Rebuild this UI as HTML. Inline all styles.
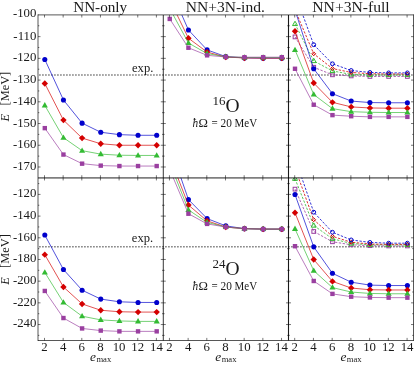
<!DOCTYPE html>
<html><head><meta charset="utf-8"><title>chart</title>
<style>html,body{margin:0;padding:0;background:#fff;width:415px;height:365px;overflow:hidden}svg{will-change:transform;opacity:0.999}svg text{font-family:"Liberation Serif",serif}</style>
</head><body>
<svg width="415" height="365" viewBox="0 0 415 365" style="display:block;position:absolute;left:0;top:0" fill="#1a1a1a">
<rect width="415" height="365" fill="#fff"/>
<defs>
<clipPath id="c00"><rect x="38.0" y="14.9" width="125.30000000000001" height="162.95"/></clipPath>
<clipPath id="c01"><rect x="163.3" y="14.9" width="125.19999999999999" height="162.95"/></clipPath>
<clipPath id="c02"><rect x="288.5" y="14.9" width="125.0" height="162.95"/></clipPath>
<clipPath id="c10"><rect x="38.0" y="177.85" width="125.30000000000001" height="162.65"/></clipPath>
<clipPath id="c11"><rect x="163.3" y="177.85" width="125.19999999999999" height="162.65"/></clipPath>
<clipPath id="c12"><rect x="288.5" y="177.85" width="125.0" height="162.65"/></clipPath>
</defs>
<line x1="38.0" y1="75.05" x2="413.5" y2="75.05" stroke="#8c8c8c" stroke-width="1.5" stroke-dasharray="1.8 1.2" stroke-dashoffset="-1"/>
<line x1="38.0" y1="246.70" x2="413.5" y2="246.70" stroke="#8c8c8c" stroke-width="1.5" stroke-dasharray="1.8 1.2" stroke-dashoffset="-1"/>
<path d="M44.80 59.45L63.45 99.97L82.10 123.15L100.75 132.25L119.40 134.64L138.05 135.29L156.70 135.29" fill="none" stroke="#0000cc" stroke-width="0.68" clip-path="url(#c00)"/>
<circle cx="44.80" cy="59.45" r="2.55" fill="#0000cc" stroke="none"/>
<circle cx="63.45" cy="99.97" r="2.55" fill="#0000cc" stroke="none"/>
<circle cx="82.10" cy="123.15" r="2.55" fill="#0000cc" stroke="none"/>
<circle cx="100.75" cy="132.25" r="2.55" fill="#0000cc" stroke="none"/>
<circle cx="119.40" cy="134.64" r="2.55" fill="#0000cc" stroke="none"/>
<circle cx="138.05" cy="135.29" r="2.55" fill="#0000cc" stroke="none"/>
<circle cx="156.70" cy="135.29" r="2.55" fill="#0000cc" stroke="none"/>
<path d="M44.80 83.50L63.45 120.12L82.10 138.10L100.75 143.74L119.40 145.25L138.05 145.25L156.70 145.25" fill="none" stroke="#d40000" stroke-width="0.68" clip-path="url(#c00)"/>
<path d="M41.60 83.50L44.80 80.30L48.00 83.50L44.80 86.70Z" fill="#d40000" stroke="none"/>
<path d="M60.25 120.12L63.45 116.92L66.65 120.12L63.45 123.32Z" fill="#d40000" stroke="none"/>
<path d="M78.90 138.10L82.10 134.90L85.30 138.10L82.10 141.30Z" fill="#d40000" stroke="none"/>
<path d="M97.55 143.74L100.75 140.54L103.95 143.74L100.75 146.94Z" fill="#d40000" stroke="none"/>
<path d="M116.20 145.25L119.40 142.05L122.60 145.25L119.40 148.45Z" fill="#d40000" stroke="none"/>
<path d="M134.85 145.25L138.05 142.05L141.25 145.25L138.05 148.45Z" fill="#d40000" stroke="none"/>
<path d="M153.50 145.25L156.70 142.05L159.90 145.25L156.70 148.45Z" fill="#d40000" stroke="none"/>
<path d="M44.80 105.38L63.45 137.67L82.10 150.67L100.75 154.14L119.40 155.22L138.05 155.44L156.70 155.44" fill="none" stroke="#33bb33" stroke-width="0.68" clip-path="url(#c00)"/>
<path d="M44.80 102.11L47.85 107.39L41.75 107.39Z" fill="#33bb33" stroke="none"/>
<path d="M63.45 134.39L66.50 139.68L60.40 139.68Z" fill="#33bb33" stroke="none"/>
<path d="M82.10 147.39L85.15 152.68L79.05 152.68Z" fill="#33bb33" stroke="none"/>
<path d="M100.75 150.86L103.80 156.14L97.70 156.14Z" fill="#33bb33" stroke="none"/>
<path d="M119.40 151.94L122.45 157.23L116.35 157.23Z" fill="#33bb33" stroke="none"/>
<path d="M138.05 152.16L141.10 157.44L135.00 157.44Z" fill="#33bb33" stroke="none"/>
<path d="M156.70 152.16L159.75 157.44L153.65 157.44Z" fill="#33bb33" stroke="none"/>
<path d="M44.80 128.14L63.45 154.57L82.10 163.67L100.75 165.62L119.40 166.05L138.05 166.05L156.70 166.05" fill="none" stroke="#9a3fa0" stroke-width="0.68" clip-path="url(#c00)"/>
<rect x="42.60" y="125.94" width="4.40" height="4.40" fill="#9a3fa0" stroke="none"/>
<rect x="61.25" y="152.37" width="4.40" height="4.40" fill="#9a3fa0" stroke="none"/>
<rect x="79.90" y="161.47" width="4.40" height="4.40" fill="#9a3fa0" stroke="none"/>
<rect x="98.55" y="163.42" width="4.40" height="4.40" fill="#9a3fa0" stroke="none"/>
<rect x="117.20" y="163.85" width="4.40" height="4.40" fill="#9a3fa0" stroke="none"/>
<rect x="135.85" y="163.85" width="4.40" height="4.40" fill="#9a3fa0" stroke="none"/>
<rect x="154.50" y="163.85" width="4.40" height="4.40" fill="#9a3fa0" stroke="none"/>
<path d="M169.75 -12.70L188.43 29.98L207.11 49.92L225.79 56.63L244.47 57.93L263.15 58.15L281.83 58.15" fill="none" stroke="#0000cc" stroke-width="0.68" clip-path="url(#c01)"/>
<circle cx="188.43" cy="29.98" r="2.55" fill="#0000cc" stroke="none"/>
<circle cx="207.11" cy="49.92" r="2.55" fill="#0000cc" stroke="none"/>
<circle cx="225.79" cy="56.63" r="2.55" fill="#0000cc" stroke="none"/>
<circle cx="244.47" cy="57.93" r="2.55" fill="#0000cc" stroke="none"/>
<circle cx="263.15" cy="58.15" r="2.55" fill="#0000cc" stroke="none"/>
<circle cx="281.83" cy="58.15" r="2.55" fill="#0000cc" stroke="none"/>
<path d="M169.75 -0.13L188.43 38.22L207.11 52.08L225.79 57.07L244.47 57.93L263.15 58.15L281.83 58.15" fill="none" stroke="#d40000" stroke-width="0.68" clip-path="url(#c01)"/>
<path d="M185.23 38.22L188.43 35.02L191.63 38.22L188.43 41.42Z" fill="#d40000" stroke="none"/>
<path d="M203.91 52.08L207.11 48.88L210.31 52.08L207.11 55.28Z" fill="#d40000" stroke="none"/>
<path d="M222.59 57.07L225.79 53.87L228.99 57.07L225.79 60.27Z" fill="#d40000" stroke="none"/>
<path d="M241.27 57.93L244.47 54.73L247.67 57.93L244.47 61.13Z" fill="#d40000" stroke="none"/>
<path d="M259.95 58.15L263.15 54.95L266.35 58.15L263.15 61.35Z" fill="#d40000" stroke="none"/>
<path d="M278.63 58.15L281.83 54.95L285.03 58.15L281.83 61.35Z" fill="#d40000" stroke="none"/>
<path d="M169.75 8.53L188.43 42.98L207.11 53.60L225.79 56.85L244.47 57.50L263.15 57.50L281.83 57.50" fill="none" stroke="#33bb33" stroke-width="0.68" clip-path="url(#c01)"/>
<path d="M188.43 39.71L191.48 44.99L185.38 44.99Z" fill="#33bb33" stroke="none"/>
<path d="M207.11 50.33L210.16 55.61L204.06 55.61Z" fill="#33bb33" stroke="none"/>
<path d="M225.79 53.58L228.84 58.86L222.74 58.86Z" fill="#33bb33" stroke="none"/>
<path d="M244.47 54.23L247.52 59.51L241.42 59.51Z" fill="#33bb33" stroke="none"/>
<path d="M263.15 54.23L266.20 59.51L260.10 59.51Z" fill="#33bb33" stroke="none"/>
<path d="M281.83 54.23L284.88 59.51L278.78 59.51Z" fill="#33bb33" stroke="none"/>
<path d="M169.75 18.93L188.43 47.75L207.11 55.33L225.79 56.96L244.47 57.18L263.15 57.18L281.83 57.18" fill="none" stroke="#9a3fa0" stroke-width="0.68" clip-path="url(#c01)"/>
<rect x="167.55" y="16.73" width="4.40" height="4.40" fill="#9a3fa0" stroke="none"/>
<rect x="186.23" y="45.55" width="4.40" height="4.40" fill="#9a3fa0" stroke="none"/>
<rect x="204.91" y="53.13" width="4.40" height="4.40" fill="#9a3fa0" stroke="none"/>
<rect x="223.59" y="54.76" width="4.40" height="4.40" fill="#9a3fa0" stroke="none"/>
<rect x="242.27" y="54.98" width="4.40" height="4.40" fill="#9a3fa0" stroke="none"/>
<rect x="260.95" y="54.98" width="4.40" height="4.40" fill="#9a3fa0" stroke="none"/>
<rect x="279.63" y="54.98" width="4.40" height="4.40" fill="#9a3fa0" stroke="none"/>
<path d="M295.00 36.92L313.73 67.25L332.46 74.83L351.19 75.92L369.92 76.46L388.65 76.46L407.38 76.46" fill="none" stroke="#9a3fa0" stroke-width="0.8" stroke-dasharray="2.4 1.5" clip-path="url(#c02)"/>
<rect x="293.15" y="35.07" width="3.70" height="3.70" fill="none" stroke="#9a3fa0" stroke-width="1.0"/>
<rect x="311.88" y="65.40" width="3.70" height="3.70" fill="none" stroke="#9a3fa0" stroke-width="1.0"/>
<rect x="330.61" y="72.98" width="3.70" height="3.70" fill="none" stroke="#9a3fa0" stroke-width="1.0"/>
<rect x="349.34" y="74.07" width="3.70" height="3.70" fill="none" stroke="#9a3fa0" stroke-width="1.0"/>
<rect x="368.07" y="74.61" width="3.70" height="3.70" fill="none" stroke="#9a3fa0" stroke-width="1.0"/>
<rect x="386.80" y="74.61" width="3.70" height="3.70" fill="none" stroke="#9a3fa0" stroke-width="1.0"/>
<rect x="405.53" y="74.61" width="3.70" height="3.70" fill="none" stroke="#9a3fa0" stroke-width="1.0"/>
<path d="M295.00 23.92L313.73 60.97L332.46 70.93L351.19 74.40L369.92 74.94L388.65 74.94L407.38 74.94" fill="none" stroke="#33bb33" stroke-width="0.8" stroke-dasharray="2.4 1.5" clip-path="url(#c02)"/>
<path d="M295.00 21.23L297.50 25.56L292.50 25.56Z" fill="none" stroke="#33bb33" stroke-width="1.0"/>
<path d="M313.73 58.28L316.23 62.61L311.23 62.61Z" fill="none" stroke="#33bb33" stroke-width="1.0"/>
<path d="M332.46 68.25L334.96 72.58L329.96 72.58Z" fill="none" stroke="#33bb33" stroke-width="1.0"/>
<path d="M351.19 71.72L353.69 76.05L348.69 76.05Z" fill="none" stroke="#33bb33" stroke-width="1.0"/>
<path d="M369.92 72.26L372.42 76.59L367.42 76.59Z" fill="none" stroke="#33bb33" stroke-width="1.0"/>
<path d="M388.65 72.26L391.15 76.59L386.15 76.59Z" fill="none" stroke="#33bb33" stroke-width="1.0"/>
<path d="M407.38 72.26L409.88 76.59L404.88 76.59Z" fill="none" stroke="#33bb33" stroke-width="1.0"/>
<path d="M295.00 9.83L313.73 53.82L332.46 68.55L351.19 72.45L369.92 73.75L388.65 73.97L407.38 73.97" fill="none" stroke="#d40000" stroke-width="0.8" stroke-dasharray="2.4 1.5" clip-path="url(#c02)"/>
<path d="M311.78 53.82L313.73 51.87L315.68 53.82L313.73 55.77Z" fill="none" stroke="#d40000" stroke-width="1.0"/>
<path d="M330.51 68.55L332.46 66.60L334.41 68.55L332.46 70.50Z" fill="none" stroke="#d40000" stroke-width="1.0"/>
<path d="M349.24 72.45L351.19 70.50L353.14 72.45L351.19 74.40Z" fill="none" stroke="#d40000" stroke-width="1.0"/>
<path d="M367.97 73.75L369.92 71.80L371.87 73.75L369.92 75.70Z" fill="none" stroke="#d40000" stroke-width="1.0"/>
<path d="M386.70 73.97L388.65 72.02L390.60 73.97L388.65 75.92Z" fill="none" stroke="#d40000" stroke-width="1.0"/>
<path d="M405.43 73.97L407.38 72.02L409.33 73.97L407.38 75.92Z" fill="none" stroke="#d40000" stroke-width="1.0"/>
<path d="M295.00 -6.20L313.73 44.72L332.46 63.78L351.19 70.50L369.92 72.45L388.65 72.88L407.38 72.88" fill="none" stroke="#0000cc" stroke-width="0.8" stroke-dasharray="2.4 1.5" clip-path="url(#c02)"/>
<circle cx="313.73" cy="44.72" r="1.92" fill="none" stroke="#0000cc" stroke-width="1.0"/>
<circle cx="332.46" cy="63.78" r="1.92" fill="none" stroke="#0000cc" stroke-width="1.0"/>
<circle cx="351.19" cy="70.50" r="1.92" fill="none" stroke="#0000cc" stroke-width="1.0"/>
<circle cx="369.92" cy="72.45" r="1.92" fill="none" stroke="#0000cc" stroke-width="1.0"/>
<circle cx="388.65" cy="72.88" r="1.92" fill="none" stroke="#0000cc" stroke-width="1.0"/>
<circle cx="407.38" cy="72.88" r="1.92" fill="none" stroke="#0000cc" stroke-width="1.0"/>
<path d="M295.00 9.83L313.73 68.77L332.46 93.68L351.19 101.05L369.92 102.57L388.65 102.78L407.38 102.78" fill="none" stroke="#0000cc" stroke-width="0.68" clip-path="url(#c02)"/>
<circle cx="313.73" cy="68.77" r="2.55" fill="#0000cc" stroke="none"/>
<circle cx="332.46" cy="93.68" r="2.55" fill="#0000cc" stroke="none"/>
<circle cx="351.19" cy="101.05" r="2.55" fill="#0000cc" stroke="none"/>
<circle cx="369.92" cy="102.57" r="2.55" fill="#0000cc" stroke="none"/>
<circle cx="388.65" cy="102.78" r="2.55" fill="#0000cc" stroke="none"/>
<circle cx="407.38" cy="102.78" r="2.55" fill="#0000cc" stroke="none"/>
<path d="M295.00 31.28L313.73 83.07L332.46 102.35L351.19 106.90L369.92 107.98L388.65 108.20L407.38 108.20" fill="none" stroke="#d40000" stroke-width="0.68" clip-path="url(#c02)"/>
<path d="M291.80 31.28L295.00 28.08L298.20 31.28L295.00 34.48Z" fill="#d40000" stroke="none"/>
<path d="M310.53 83.07L313.73 79.87L316.93 83.07L313.73 86.27Z" fill="#d40000" stroke="none"/>
<path d="M329.26 102.35L332.46 99.15L335.66 102.35L332.46 105.55Z" fill="#d40000" stroke="none"/>
<path d="M347.99 106.90L351.19 103.70L354.39 106.90L351.19 110.10Z" fill="#d40000" stroke="none"/>
<path d="M366.72 107.98L369.92 104.78L373.12 107.98L369.92 111.18Z" fill="#d40000" stroke="none"/>
<path d="M385.45 108.20L388.65 105.00L391.85 108.20L388.65 111.40Z" fill="#d40000" stroke="none"/>
<path d="M404.18 108.20L407.38 105.00L410.58 108.20L407.38 111.40Z" fill="#d40000" stroke="none"/>
<path d="M295.00 49.92L313.73 94.55L332.46 108.63L351.19 111.67L369.92 112.32L388.65 112.53L407.38 112.53" fill="none" stroke="#33bb33" stroke-width="0.68" clip-path="url(#c02)"/>
<path d="M295.00 46.64L298.05 51.92L291.95 51.92Z" fill="#33bb33" stroke="none"/>
<path d="M313.73 91.28L316.78 96.56L310.68 96.56Z" fill="#33bb33" stroke="none"/>
<path d="M332.46 105.36L335.51 110.64L329.41 110.64Z" fill="#33bb33" stroke="none"/>
<path d="M351.19 108.39L354.24 113.68L348.14 113.68Z" fill="#33bb33" stroke="none"/>
<path d="M369.92 109.04L372.97 114.33L366.87 114.33Z" fill="#33bb33" stroke="none"/>
<path d="M388.65 109.26L391.70 114.54L385.60 114.54Z" fill="#33bb33" stroke="none"/>
<path d="M407.38 109.26L410.43 114.54L404.33 114.54Z" fill="#33bb33" stroke="none"/>
<path d="M295.00 68.77L313.73 104.73L332.46 115.13L351.19 116.22L369.92 116.87L388.65 116.87L407.38 116.87" fill="none" stroke="#9a3fa0" stroke-width="0.68" clip-path="url(#c02)"/>
<rect x="292.80" y="66.57" width="4.40" height="4.40" fill="#9a3fa0" stroke="none"/>
<rect x="311.53" y="102.53" width="4.40" height="4.40" fill="#9a3fa0" stroke="none"/>
<rect x="330.26" y="112.93" width="4.40" height="4.40" fill="#9a3fa0" stroke="none"/>
<rect x="348.99" y="114.02" width="4.40" height="4.40" fill="#9a3fa0" stroke="none"/>
<rect x="367.72" y="114.67" width="4.40" height="4.40" fill="#9a3fa0" stroke="none"/>
<rect x="386.45" y="114.67" width="4.40" height="4.40" fill="#9a3fa0" stroke="none"/>
<rect x="405.18" y="114.67" width="4.40" height="4.40" fill="#9a3fa0" stroke="none"/>
<path d="M44.80 235.06L63.45 269.51L82.10 290.20L100.75 299.08L119.40 301.79L138.05 302.44L156.70 302.44" fill="none" stroke="#0000cc" stroke-width="0.68" clip-path="url(#c10)"/>
<circle cx="44.80" cy="235.06" r="2.55" fill="#0000cc" stroke="none"/>
<circle cx="63.45" cy="269.51" r="2.55" fill="#0000cc" stroke="none"/>
<circle cx="82.10" cy="290.20" r="2.55" fill="#0000cc" stroke="none"/>
<circle cx="100.75" cy="299.08" r="2.55" fill="#0000cc" stroke="none"/>
<circle cx="119.40" cy="301.79" r="2.55" fill="#0000cc" stroke="none"/>
<circle cx="138.05" cy="302.44" r="2.55" fill="#0000cc" stroke="none"/>
<circle cx="156.70" cy="302.44" r="2.55" fill="#0000cc" stroke="none"/>
<path d="M44.80 254.66L63.45 286.95L82.10 303.95L100.75 310.24L119.40 311.75L138.05 312.08L156.70 312.08" fill="none" stroke="#d40000" stroke-width="0.68" clip-path="url(#c10)"/>
<path d="M41.60 254.66L44.80 251.46L48.00 254.66L44.80 257.86Z" fill="#d40000" stroke="none"/>
<path d="M60.25 286.95L63.45 283.75L66.65 286.95L63.45 290.15Z" fill="#d40000" stroke="none"/>
<path d="M78.90 303.95L82.10 300.75L85.30 303.95L82.10 307.15Z" fill="#d40000" stroke="none"/>
<path d="M97.55 310.24L100.75 307.04L103.95 310.24L100.75 313.44Z" fill="#d40000" stroke="none"/>
<path d="M116.20 311.75L119.40 308.55L122.60 311.75L119.40 314.95Z" fill="#d40000" stroke="none"/>
<path d="M134.85 312.08L138.05 308.88L141.25 312.08L138.05 315.28Z" fill="#d40000" stroke="none"/>
<path d="M153.50 312.08L156.70 308.88L159.90 312.08L156.70 315.28Z" fill="#d40000" stroke="none"/>
<path d="M44.80 272.43L63.45 302.44L82.10 316.20L100.75 319.88L119.40 320.96L138.05 321.40L156.70 321.40" fill="none" stroke="#33bb33" stroke-width="0.68" clip-path="url(#c10)"/>
<path d="M44.80 269.16L47.85 274.44L41.75 274.44Z" fill="#33bb33" stroke="none"/>
<path d="M63.45 299.16L66.50 304.45L60.40 304.45Z" fill="#33bb33" stroke="none"/>
<path d="M82.10 312.92L85.15 318.20L79.05 318.20Z" fill="#33bb33" stroke="none"/>
<path d="M100.75 316.60L103.80 321.89L97.70 321.89Z" fill="#33bb33" stroke="none"/>
<path d="M119.40 317.69L122.45 322.97L116.35 322.97Z" fill="#33bb33" stroke="none"/>
<path d="M138.05 318.12L141.10 323.40L135.00 323.40Z" fill="#33bb33" stroke="none"/>
<path d="M156.70 318.12L159.75 323.40L153.65 323.40Z" fill="#33bb33" stroke="none"/>
<path d="M44.80 290.95L63.45 318.04L82.10 328.44L100.75 330.60L119.40 331.36L138.05 331.36L156.70 331.36" fill="none" stroke="#9a3fa0" stroke-width="0.68" clip-path="url(#c10)"/>
<rect x="42.60" y="288.75" width="4.40" height="4.40" fill="#9a3fa0" stroke="none"/>
<rect x="61.25" y="315.84" width="4.40" height="4.40" fill="#9a3fa0" stroke="none"/>
<rect x="79.90" y="326.24" width="4.40" height="4.40" fill="#9a3fa0" stroke="none"/>
<rect x="98.55" y="328.40" width="4.40" height="4.40" fill="#9a3fa0" stroke="none"/>
<rect x="117.20" y="329.16" width="4.40" height="4.40" fill="#9a3fa0" stroke="none"/>
<rect x="135.85" y="329.16" width="4.40" height="4.40" fill="#9a3fa0" stroke="none"/>
<rect x="154.50" y="329.16" width="4.40" height="4.40" fill="#9a3fa0" stroke="none"/>
<path d="M169.75 145.58L188.43 199.52L207.11 218.59L225.79 225.85L244.47 228.67L263.15 229.10L281.83 229.10" fill="none" stroke="#0000cc" stroke-width="0.68" clip-path="url(#c11)"/>
<circle cx="188.43" cy="199.52" r="2.55" fill="#0000cc" stroke="none"/>
<circle cx="207.11" cy="218.59" r="2.55" fill="#0000cc" stroke="none"/>
<circle cx="225.79" cy="225.85" r="2.55" fill="#0000cc" stroke="none"/>
<circle cx="244.47" cy="228.67" r="2.55" fill="#0000cc" stroke="none"/>
<circle cx="263.15" cy="229.10" r="2.55" fill="#0000cc" stroke="none"/>
<circle cx="281.83" cy="229.10" r="2.55" fill="#0000cc" stroke="none"/>
<path d="M169.75 156.95L188.43 205.05L207.11 220.87L225.79 227.04L244.47 228.67L263.15 229.10L281.83 229.10" fill="none" stroke="#d40000" stroke-width="0.68" clip-path="url(#c11)"/>
<path d="M185.23 205.05L188.43 201.85L191.63 205.05L188.43 208.25Z" fill="#d40000" stroke="none"/>
<path d="M203.91 220.87L207.11 217.67L210.31 220.87L207.11 224.07Z" fill="#d40000" stroke="none"/>
<path d="M222.59 227.04L225.79 223.84L228.99 227.04L225.79 230.24Z" fill="#d40000" stroke="none"/>
<path d="M241.27 228.67L244.47 225.47L247.67 228.67L244.47 231.87Z" fill="#d40000" stroke="none"/>
<path d="M259.95 229.10L263.15 225.90L266.35 229.10L263.15 232.30Z" fill="#d40000" stroke="none"/>
<path d="M278.63 229.10L281.83 225.90L285.03 229.10L281.83 232.30Z" fill="#d40000" stroke="none"/>
<path d="M169.75 162.80L188.43 209.92L207.11 222.38L225.79 227.04L244.47 228.67L263.15 229.10L281.83 229.10" fill="none" stroke="#33bb33" stroke-width="0.68" clip-path="url(#c11)"/>
<path d="M188.43 206.65L191.48 211.93L185.38 211.93Z" fill="#33bb33" stroke="none"/>
<path d="M207.11 219.11L210.16 224.39L204.06 224.39Z" fill="#33bb33" stroke="none"/>
<path d="M225.79 223.76L228.84 229.05L222.74 229.05Z" fill="#33bb33" stroke="none"/>
<path d="M244.47 225.39L247.52 230.67L241.42 230.67Z" fill="#33bb33" stroke="none"/>
<path d="M263.15 225.82L266.20 231.11L260.10 231.11Z" fill="#33bb33" stroke="none"/>
<path d="M281.83 225.82L284.88 231.11L278.78 231.11Z" fill="#33bb33" stroke="none"/>
<path d="M169.75 169.52L188.43 213.72L207.11 223.90L225.79 227.04L244.47 228.67L263.15 229.10L281.83 229.10" fill="none" stroke="#9a3fa0" stroke-width="0.68" clip-path="url(#c11)"/>
<rect x="186.23" y="211.52" width="4.40" height="4.40" fill="#9a3fa0" stroke="none"/>
<rect x="204.91" y="221.70" width="4.40" height="4.40" fill="#9a3fa0" stroke="none"/>
<rect x="223.59" y="224.84" width="4.40" height="4.40" fill="#9a3fa0" stroke="none"/>
<rect x="242.27" y="226.47" width="4.40" height="4.40" fill="#9a3fa0" stroke="none"/>
<rect x="260.95" y="226.90" width="4.40" height="4.40" fill="#9a3fa0" stroke="none"/>
<rect x="279.63" y="226.90" width="4.40" height="4.40" fill="#9a3fa0" stroke="none"/>
<path d="M295.00 189.12L313.73 231.48L332.46 241.77L351.19 244.81L369.92 245.67L388.65 245.94L407.38 245.94" fill="none" stroke="#9a3fa0" stroke-width="0.8" stroke-dasharray="2.4 1.5" clip-path="url(#c12)"/>
<rect x="293.15" y="187.27" width="3.70" height="3.70" fill="none" stroke="#9a3fa0" stroke-width="1.0"/>
<rect x="311.88" y="229.63" width="3.70" height="3.70" fill="none" stroke="#9a3fa0" stroke-width="1.0"/>
<rect x="330.61" y="239.92" width="3.70" height="3.70" fill="none" stroke="#9a3fa0" stroke-width="1.0"/>
<rect x="349.34" y="242.96" width="3.70" height="3.70" fill="none" stroke="#9a3fa0" stroke-width="1.0"/>
<rect x="368.07" y="243.82" width="3.70" height="3.70" fill="none" stroke="#9a3fa0" stroke-width="1.0"/>
<rect x="386.80" y="244.09" width="3.70" height="3.70" fill="none" stroke="#9a3fa0" stroke-width="1.0"/>
<rect x="405.53" y="244.09" width="3.70" height="3.70" fill="none" stroke="#9a3fa0" stroke-width="1.0"/>
<path d="M295.00 178.72L313.73 225.52L332.46 238.74L351.19 243.51L369.92 244.70L388.65 244.91L407.38 244.91" fill="none" stroke="#33bb33" stroke-width="0.8" stroke-dasharray="2.4 1.5" clip-path="url(#c12)"/>
<path d="M295.00 176.04L297.50 180.37L292.50 180.37Z" fill="none" stroke="#33bb33" stroke-width="1.0" clip-path="url(#c12)"/>
<path d="M313.73 222.84L316.23 227.17L311.23 227.17Z" fill="none" stroke="#33bb33" stroke-width="1.0"/>
<path d="M332.46 236.06L334.96 240.39L329.96 240.39Z" fill="none" stroke="#33bb33" stroke-width="1.0"/>
<path d="M351.19 240.82L353.69 245.15L348.69 245.15Z" fill="none" stroke="#33bb33" stroke-width="1.0"/>
<path d="M369.92 242.01L372.42 246.34L367.42 246.34Z" fill="none" stroke="#33bb33" stroke-width="1.0"/>
<path d="M388.65 242.23L391.15 246.56L386.15 246.56Z" fill="none" stroke="#33bb33" stroke-width="1.0"/>
<path d="M407.38 242.23L409.88 246.56L404.88 246.56Z" fill="none" stroke="#33bb33" stroke-width="1.0"/>
<path d="M295.00 168.11L313.73 219.78L332.46 236.36L351.19 242.21L369.92 244.05L388.65 244.37L407.38 244.37" fill="none" stroke="#d40000" stroke-width="0.8" stroke-dasharray="2.4 1.5" clip-path="url(#c12)"/>
<path d="M311.78 219.78L313.73 217.83L315.68 219.78L313.73 221.73Z" fill="none" stroke="#d40000" stroke-width="1.0"/>
<path d="M330.51 236.36L332.46 234.41L334.41 236.36L332.46 238.31Z" fill="none" stroke="#d40000" stroke-width="1.0"/>
<path d="M349.24 242.21L351.19 240.26L353.14 242.21L351.19 244.16Z" fill="none" stroke="#d40000" stroke-width="1.0"/>
<path d="M367.97 244.05L369.92 242.10L371.87 244.05L369.92 246.00Z" fill="none" stroke="#d40000" stroke-width="1.0"/>
<path d="M386.70 244.37L388.65 242.42L390.60 244.37L388.65 246.32Z" fill="none" stroke="#d40000" stroke-width="1.0"/>
<path d="M405.43 244.37L407.38 242.42L409.33 244.37L407.38 246.32Z" fill="none" stroke="#d40000" stroke-width="1.0"/>
<path d="M295.00 158.25L313.73 212.20L332.46 232.24L351.19 239.93L369.92 242.42L388.65 243.18L407.38 243.18" fill="none" stroke="#0000cc" stroke-width="0.8" stroke-dasharray="2.4 1.5" clip-path="url(#c12)"/>
<circle cx="313.73" cy="212.20" r="1.92" fill="none" stroke="#0000cc" stroke-width="1.0"/>
<circle cx="332.46" cy="232.24" r="1.92" fill="none" stroke="#0000cc" stroke-width="1.0"/>
<circle cx="351.19" cy="239.93" r="1.92" fill="none" stroke="#0000cc" stroke-width="1.0"/>
<circle cx="369.92" cy="242.42" r="1.92" fill="none" stroke="#0000cc" stroke-width="1.0"/>
<circle cx="388.65" cy="243.18" r="1.92" fill="none" stroke="#0000cc" stroke-width="1.0"/>
<circle cx="407.38" cy="243.18" r="1.92" fill="none" stroke="#0000cc" stroke-width="1.0"/>
<path d="M295.00 194.54L313.73 246.86L332.46 273.30L351.19 282.18L369.92 285.11L388.65 285.54L407.38 285.54" fill="none" stroke="#0000cc" stroke-width="0.68" clip-path="url(#c12)"/>
<circle cx="295.00" cy="194.54" r="2.55" fill="#0000cc" stroke="none"/>
<circle cx="313.73" cy="246.86" r="2.55" fill="#0000cc" stroke="none"/>
<circle cx="332.46" cy="273.30" r="2.55" fill="#0000cc" stroke="none"/>
<circle cx="351.19" cy="282.18" r="2.55" fill="#0000cc" stroke="none"/>
<circle cx="369.92" cy="285.11" r="2.55" fill="#0000cc" stroke="none"/>
<circle cx="388.65" cy="285.54" r="2.55" fill="#0000cc" stroke="none"/>
<circle cx="407.38" cy="285.54" r="2.55" fill="#0000cc" stroke="none"/>
<path d="M295.00 212.74L313.73 259.54L332.46 281.42L351.19 288.03L369.92 289.76L388.65 289.98L407.38 289.98" fill="none" stroke="#d40000" stroke-width="0.68" clip-path="url(#c12)"/>
<path d="M291.80 212.74L295.00 209.54L298.20 212.74L295.00 215.94Z" fill="#d40000" stroke="none"/>
<path d="M310.53 259.54L313.73 256.34L316.93 259.54L313.73 262.74Z" fill="#d40000" stroke="none"/>
<path d="M329.26 281.42L332.46 278.22L335.66 281.42L332.46 284.62Z" fill="#d40000" stroke="none"/>
<path d="M347.99 288.03L351.19 284.83L354.39 288.03L351.19 291.23Z" fill="#d40000" stroke="none"/>
<path d="M366.72 289.76L369.92 286.56L373.12 289.76L369.92 292.96Z" fill="#d40000" stroke="none"/>
<path d="M385.45 289.98L388.65 286.78L391.85 289.98L388.65 293.18Z" fill="#d40000" stroke="none"/>
<path d="M404.18 289.98L407.38 286.78L410.58 289.98L407.38 293.18Z" fill="#d40000" stroke="none"/>
<path d="M295.00 228.88L313.73 270.70L332.46 287.60L351.19 292.04L369.92 293.45L388.65 293.77L407.38 293.77" fill="none" stroke="#33bb33" stroke-width="0.68" clip-path="url(#c12)"/>
<path d="M295.00 225.61L298.05 230.89L291.95 230.89Z" fill="#33bb33" stroke="none"/>
<path d="M313.73 267.42L316.78 272.70L310.68 272.70Z" fill="#33bb33" stroke="none"/>
<path d="M332.46 284.32L335.51 289.60L329.41 289.60Z" fill="#33bb33" stroke="none"/>
<path d="M351.19 288.76L354.24 294.05L348.14 294.05Z" fill="#33bb33" stroke="none"/>
<path d="M369.92 290.17L372.97 295.45L366.87 295.45Z" fill="#33bb33" stroke="none"/>
<path d="M388.65 290.50L391.70 295.78L385.60 295.78Z" fill="#33bb33" stroke="none"/>
<path d="M407.38 290.50L410.43 295.78L404.33 295.78Z" fill="#33bb33" stroke="none"/>
<path d="M295.00 246.21L313.73 280.99L332.46 293.88L351.19 296.70L369.92 297.45L388.65 297.67L407.38 297.67" fill="none" stroke="#9a3fa0" stroke-width="0.68" clip-path="url(#c12)"/>
<rect x="292.80" y="244.01" width="4.40" height="4.40" fill="#9a3fa0" stroke="none"/>
<rect x="311.53" y="278.79" width="4.40" height="4.40" fill="#9a3fa0" stroke="none"/>
<rect x="330.26" y="291.68" width="4.40" height="4.40" fill="#9a3fa0" stroke="none"/>
<rect x="348.99" y="294.50" width="4.40" height="4.40" fill="#9a3fa0" stroke="none"/>
<rect x="367.72" y="295.25" width="4.40" height="4.40" fill="#9a3fa0" stroke="none"/>
<rect x="386.45" y="295.47" width="4.40" height="4.40" fill="#9a3fa0" stroke="none"/>
<rect x="405.18" y="295.47" width="4.40" height="4.40" fill="#9a3fa0" stroke="none"/>
<g stroke="#000" fill="none">
<path d="M38.0 14.4L38.0 341.0" stroke-width="1.0" stroke-opacity="0.66"/>
<path d="M413.5 14.4L413.5 341.0" stroke-width="1.0" stroke-opacity="0.66"/>
<path d="M38.0 14.9L413.5 14.9" stroke-width="1.0" stroke-opacity="0.66"/>
<path d="M38.0 340.5L413.5 340.5" stroke-width="1.0" stroke-opacity="0.66"/>
<path d="M163.35 14.9L163.35 340.5" stroke-width="1.2" stroke-opacity="0.66"/>
<path d="M288.5 14.9L288.5 340.5" stroke-width="1.1" stroke-opacity="0.9"/>
<path d="M38.0 177.9L413.5 177.9" stroke-width="1.8" stroke-opacity="0.5"/>
<path d="M44.50 14.9v2.6M44.50 177.85v-2.6M63.15 14.9v2.6M63.15 177.85v-2.6M81.80 14.9v2.6M81.80 177.85v-2.6M100.45 14.9v2.6M100.45 177.85v-2.6M119.10 14.9v2.6M119.10 177.85v-2.6M137.75 14.9v2.6M137.75 177.85v-2.6M156.40 14.9v2.6M156.40 177.85v-2.6M38.0 25.76h1.3M163.3 25.76h-1.3M38.0 36.63h2.5M163.3 36.63h-2.5M38.0 47.49h1.3M163.3 47.49h-1.3M38.0 58.35h2.5M163.3 58.35h-2.5M38.0 69.22h1.3M163.3 69.22h-1.3M38.0 80.08h2.5M163.3 80.08h-2.5M38.0 90.94h1.3M163.3 90.94h-1.3M38.0 101.81h2.5M163.3 101.81h-2.5M38.0 112.67h1.3M163.3 112.67h-1.3M38.0 123.53h2.5M163.3 123.53h-2.5M38.0 134.40h1.3M163.3 134.40h-1.3M38.0 145.26h2.5M163.3 145.26h-2.5M38.0 156.12h1.3M163.3 156.12h-1.3M38.0 166.99h2.5M163.3 166.99h-2.5M169.45 14.9v2.6M169.45 177.85v-2.6M188.13 14.9v2.6M188.13 177.85v-2.6M206.81 14.9v2.6M206.81 177.85v-2.6M225.49 14.9v2.6M225.49 177.85v-2.6M244.17 14.9v2.6M244.17 177.85v-2.6M262.85 14.9v2.6M262.85 177.85v-2.6M281.53 14.9v2.6M281.53 177.85v-2.6M163.3 25.76h1.3M288.5 25.76h-1.3M163.3 36.63h2.5M288.5 36.63h-2.5M163.3 47.49h1.3M288.5 47.49h-1.3M163.3 58.35h2.5M288.5 58.35h-2.5M163.3 69.22h1.3M288.5 69.22h-1.3M163.3 80.08h2.5M288.5 80.08h-2.5M163.3 90.94h1.3M288.5 90.94h-1.3M163.3 101.81h2.5M288.5 101.81h-2.5M163.3 112.67h1.3M288.5 112.67h-1.3M163.3 123.53h2.5M288.5 123.53h-2.5M163.3 134.40h1.3M288.5 134.40h-1.3M163.3 145.26h2.5M288.5 145.26h-2.5M163.3 156.12h1.3M288.5 156.12h-1.3M163.3 166.99h2.5M288.5 166.99h-2.5M294.70 14.9v2.6M294.70 177.85v-2.6M313.43 14.9v2.6M313.43 177.85v-2.6M332.16 14.9v2.6M332.16 177.85v-2.6M350.89 14.9v2.6M350.89 177.85v-2.6M369.62 14.9v2.6M369.62 177.85v-2.6M388.35 14.9v2.6M388.35 177.85v-2.6M407.08 14.9v2.6M407.08 177.85v-2.6M288.5 25.76h1.3M413.5 25.76h-1.3M288.5 36.63h2.5M413.5 36.63h-2.5M288.5 47.49h1.3M413.5 47.49h-1.3M288.5 58.35h2.5M413.5 58.35h-2.5M288.5 69.22h1.3M413.5 69.22h-1.3M288.5 80.08h2.5M413.5 80.08h-2.5M288.5 90.94h1.3M413.5 90.94h-1.3M288.5 101.81h2.5M413.5 101.81h-2.5M288.5 112.67h1.3M413.5 112.67h-1.3M288.5 123.53h2.5M413.5 123.53h-2.5M288.5 134.40h1.3M413.5 134.40h-1.3M288.5 145.26h2.5M413.5 145.26h-2.5M288.5 156.12h1.3M413.5 156.12h-1.3M288.5 166.99h2.5M413.5 166.99h-2.5M44.50 177.85v2.6M44.50 340.5v-2.6M63.15 177.85v2.6M63.15 340.5v-2.6M81.80 177.85v2.6M81.80 340.5v-2.6M100.45 177.85v2.6M100.45 340.5v-2.6M119.10 177.85v2.6M119.10 340.5v-2.6M137.75 177.85v2.6M137.75 340.5v-2.6M156.40 177.85v2.6M156.40 340.5v-2.6M38.0 183.57h1.3M163.3 183.57h-1.3M38.0 194.42h2.5M163.3 194.42h-2.5M38.0 205.26h1.3M163.3 205.26h-1.3M38.0 216.10h2.5M163.3 216.10h-2.5M38.0 226.94h1.3M163.3 226.94h-1.3M38.0 237.79h2.5M163.3 237.79h-2.5M38.0 248.63h1.3M163.3 248.63h-1.3M38.0 259.48h2.5M163.3 259.48h-2.5M38.0 270.32h1.3M163.3 270.32h-1.3M38.0 281.16h2.5M163.3 281.16h-2.5M38.0 292.00h1.3M163.3 292.00h-1.3M38.0 302.85h2.5M163.3 302.85h-2.5M38.0 313.69h1.3M163.3 313.69h-1.3M38.0 324.54h2.5M163.3 324.54h-2.5M38.0 335.38h1.3M163.3 335.38h-1.3M169.45 177.85v2.6M169.45 340.5v-2.6M188.13 177.85v2.6M188.13 340.5v-2.6M206.81 177.85v2.6M206.81 340.5v-2.6M225.49 177.85v2.6M225.49 340.5v-2.6M244.17 177.85v2.6M244.17 340.5v-2.6M262.85 177.85v2.6M262.85 340.5v-2.6M281.53 177.85v2.6M281.53 340.5v-2.6M163.3 183.57h1.3M288.5 183.57h-1.3M163.3 194.42h2.5M288.5 194.42h-2.5M163.3 205.26h1.3M288.5 205.26h-1.3M163.3 216.10h2.5M288.5 216.10h-2.5M163.3 226.94h1.3M288.5 226.94h-1.3M163.3 237.79h2.5M288.5 237.79h-2.5M163.3 248.63h1.3M288.5 248.63h-1.3M163.3 259.48h2.5M288.5 259.48h-2.5M163.3 270.32h1.3M288.5 270.32h-1.3M163.3 281.16h2.5M288.5 281.16h-2.5M163.3 292.00h1.3M288.5 292.00h-1.3M163.3 302.85h2.5M288.5 302.85h-2.5M163.3 313.69h1.3M288.5 313.69h-1.3M163.3 324.54h2.5M288.5 324.54h-2.5M163.3 335.38h1.3M288.5 335.38h-1.3M294.70 177.85v2.6M294.70 340.5v-2.6M313.43 177.85v2.6M313.43 340.5v-2.6M332.16 177.85v2.6M332.16 340.5v-2.6M350.89 177.85v2.6M350.89 340.5v-2.6M369.62 177.85v2.6M369.62 340.5v-2.6M388.35 177.85v2.6M388.35 340.5v-2.6M407.08 177.85v2.6M407.08 340.5v-2.6M288.5 183.57h1.3M413.5 183.57h-1.3M288.5 194.42h2.5M413.5 194.42h-2.5M288.5 205.26h1.3M413.5 205.26h-1.3M288.5 216.10h2.5M413.5 216.10h-2.5M288.5 226.94h1.3M413.5 226.94h-1.3M288.5 237.79h2.5M413.5 237.79h-2.5M288.5 248.63h1.3M413.5 248.63h-1.3M288.5 259.48h2.5M413.5 259.48h-2.5M288.5 270.32h1.3M413.5 270.32h-1.3M288.5 281.16h2.5M413.5 281.16h-2.5M288.5 292.00h1.3M413.5 292.00h-1.3M288.5 302.85h2.5M413.5 302.85h-2.5M288.5 313.69h1.3M413.5 313.69h-1.3M288.5 324.54h2.5M413.5 324.54h-2.5M288.5 335.38h1.3M413.5 335.38h-1.3" stroke-width="0.9" stroke-opacity="0.6"/>
</g>
<text transform="translate(36.4 17.40) scale(0.95 1)" font-size="13.5" text-anchor="end" >-100</text>
<text transform="translate(36.4 39.73) scale(0.95 1)" font-size="13.5" text-anchor="end" >-110</text>
<text transform="translate(36.4 61.45) scale(0.95 1)" font-size="13.5" text-anchor="end" >-120</text>
<text transform="translate(36.4 83.18) scale(0.95 1)" font-size="13.5" text-anchor="end" >-130</text>
<text transform="translate(36.4 104.91) scale(0.95 1)" font-size="13.5" text-anchor="end" >-140</text>
<text transform="translate(36.4 126.63) scale(0.95 1)" font-size="13.5" text-anchor="end" >-150</text>
<text transform="translate(36.4 148.36) scale(0.95 1)" font-size="13.5" text-anchor="end" >-160</text>
<text transform="translate(36.4 170.09) scale(0.95 1)" font-size="13.5" text-anchor="end" >-170</text>
<text transform="translate(36.4 197.32) scale(0.95 1)" font-size="13.5" text-anchor="end" >-120</text>
<text transform="translate(36.4 219.00) scale(0.95 1)" font-size="13.5" text-anchor="end" >-140</text>
<text transform="translate(36.4 240.69) scale(0.95 1)" font-size="13.5" text-anchor="end" >-160</text>
<text transform="translate(36.4 262.38) scale(0.95 1)" font-size="13.5" text-anchor="end" >-180</text>
<text transform="translate(36.4 284.06) scale(0.95 1)" font-size="13.5" text-anchor="end" >-200</text>
<text transform="translate(36.4 305.75) scale(0.95 1)" font-size="13.5" text-anchor="end" >-220</text>
<text transform="translate(36.4 327.44) scale(0.95 1)" font-size="13.5" text-anchor="end" >-240</text>
<text transform="translate(44.50 351.4) scale(0.95 1)" font-size="13.5" text-anchor="middle" >2</text>
<text transform="translate(63.15 351.4) scale(0.95 1)" font-size="13.5" text-anchor="middle" >4</text>
<text transform="translate(81.80 351.4) scale(0.95 1)" font-size="13.5" text-anchor="middle" >6</text>
<text transform="translate(100.45 351.4) scale(0.95 1)" font-size="13.5" text-anchor="middle" >8</text>
<text transform="translate(119.10 351.4) scale(0.95 1)" font-size="13.5" text-anchor="middle" >10</text>
<text transform="translate(137.75 351.4) scale(0.95 1)" font-size="13.5" text-anchor="middle" >12</text>
<text transform="translate(156.40 351.4) scale(0.95 1)" font-size="13.5" text-anchor="middle" >14</text>
<text x="90.05" y="360.7" font-size="13.4" font-style="italic">e</text>
<text x="96.45" y="362.4" font-size="8.6">max</text>
<text transform="translate(169.45 351.4) scale(0.95 1)" font-size="13.5" text-anchor="middle" >2</text>
<text transform="translate(188.13 351.4) scale(0.95 1)" font-size="13.5" text-anchor="middle" >4</text>
<text transform="translate(206.81 351.4) scale(0.95 1)" font-size="13.5" text-anchor="middle" >6</text>
<text transform="translate(225.49 351.4) scale(0.95 1)" font-size="13.5" text-anchor="middle" >8</text>
<text transform="translate(244.17 351.4) scale(0.95 1)" font-size="13.5" text-anchor="middle" >10</text>
<text transform="translate(262.85 351.4) scale(0.95 1)" font-size="13.5" text-anchor="middle" >12</text>
<text transform="translate(281.53 351.4) scale(0.95 1)" font-size="13.5" text-anchor="middle" >14</text>
<text x="215.30" y="360.7" font-size="13.4" font-style="italic">e</text>
<text x="221.70" y="362.4" font-size="8.6">max</text>
<text transform="translate(294.70 351.4) scale(0.95 1)" font-size="13.5" text-anchor="middle" >2</text>
<text transform="translate(313.43 351.4) scale(0.95 1)" font-size="13.5" text-anchor="middle" >4</text>
<text transform="translate(332.16 351.4) scale(0.95 1)" font-size="13.5" text-anchor="middle" >6</text>
<text transform="translate(350.89 351.4) scale(0.95 1)" font-size="13.5" text-anchor="middle" >8</text>
<text transform="translate(369.62 351.4) scale(0.95 1)" font-size="13.5" text-anchor="middle" >10</text>
<text transform="translate(388.35 351.4) scale(0.95 1)" font-size="13.5" text-anchor="middle" >12</text>
<text transform="translate(407.08 351.4) scale(0.95 1)" font-size="13.5" text-anchor="middle" >14</text>
<text x="340.40" y="360.7" font-size="13.4" font-style="italic">e</text>
<text x="346.80" y="362.4" font-size="8.6">max</text>
<text x="73.20" y="12.35" font-size="14.3" textLength="54.0" lengthAdjust="spacingAndGlyphs">NN-only</text>
<text x="185.80" y="12.35" font-size="14.3" textLength="79.0" lengthAdjust="spacingAndGlyphs">NN+3N-ind.</text>
<text x="312.35" y="12.35" font-size="14.3" textLength="77.3" lengthAdjust="spacingAndGlyphs">NN+3N-full</text>
<text transform="translate(132.0 71.5) scale(0.97 1)" font-size="13" text-anchor="start" >exp.</text>
<text transform="translate(131.8 241.7) scale(0.97 1)" font-size="13" text-anchor="start" >exp.</text>
<text transform="translate(225.5 104.7) scale(1.0 1)" font-size="13.0" text-anchor="end">16</text>
<text transform="translate(225.6 111.8) scale(1.0 1)" font-size="19.5" >O</text>
<text transform="translate(192.6 126.8) scale(0.93 1)" font-size="12.2" font-style="italic">&#295;</text>
<text transform="translate(198.4 126.8) scale(1.04 1)" font-size="12.2" >&#937;</text>
<text transform="translate(211.6 126.8) scale(0.9 1)" font-size="12.2" >=</text>
<text transform="translate(220.6 126.8) scale(0.93 1)" font-size="12.2" >20</text>
<text transform="translate(234.6 126.8) scale(0.9 1)" font-size="12.2" >MeV</text>
<text transform="translate(225.5 267.6) scale(1.0 1)" font-size="13.0" text-anchor="end">24</text>
<text transform="translate(225.6 274.7) scale(1.0 1)" font-size="19.5" >O</text>
<text transform="translate(192.6 289.86289999999997) scale(0.93 1)" font-size="12.2" font-style="italic">&#295;</text>
<text transform="translate(198.4 289.86289999999997) scale(1.04 1)" font-size="12.2" >&#937;</text>
<text transform="translate(211.6 289.86289999999997) scale(0.9 1)" font-size="12.2" >=</text>
<text transform="translate(220.6 289.86289999999997) scale(0.93 1)" font-size="12.2" >20</text>
<text transform="translate(234.6 289.86289999999997) scale(0.9 1)" font-size="12.2" >MeV</text>
<text transform="translate(9.3 121.6) rotate(-90)" font-size="12.3" font-style="italic">E</text>
<text transform="translate(9.3 105.5) rotate(-90)" font-size="12.4">[MeV]</text>
<text transform="translate(9.3 284.8) rotate(-90)" font-size="12.3" font-style="italic">E</text>
<text transform="translate(9.3 267.9) rotate(-90)" font-size="12.4">[MeV]</text>
</svg>
</body></html>
